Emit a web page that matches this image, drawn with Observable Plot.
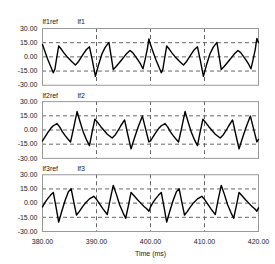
<!DOCTYPE html>
<html>
<head>
<meta charset="utf-8">
<script src="https://cdn.jsdelivr.net/npm/d3@7"></script>
<script src="https://cdn.jsdelivr.net/npm/@observablehq/plot@0.6"></script>
<style>
  html, body { margin: 0; padding: 0; background: #fff; }
  #chart { width: 275px; height: 264px; }
</style>
</head>
<body>
<div id="chart"></div>
<script>
// Panel names and series labels
const panels = ["1", "2", "3"];
const refLabels = ["lf1ref", "lf2ref", "lf3ref"];
const actLabels = ["lf1", "lf2", "lf3"];

// Axis ticks
const xTicks = [380, 390, 400, 410, 420];
const yTicks = [30, 15, 0, -15, -30];
const yGrid = [15, 0, -15];
const xGrid = [390, 400, 410];

// Panel 1 (lf1): time (ms) and value
const t1 = [380,380.5,381,381.5,382,382.3,382.6,383,383.5,384,384.5,385,385.5,386.1,386.6,387.1,387.6,388.1,388.7,389.2,389.8,390.4,391,391.6,392.3,392.7,393.1,393.6,394.1,394.6,395.1,395.6,396.2,396.7,397.2,397.7,398.2,398.6,399,399.4,399.7,
            400,400.5,401,401.5,402,402.3,402.6,403,403.5,404,404.5,405,405.5,406.1,406.6,407.1,407.6,408.1,408.7,409.2,409.8,410.4,411,411.6,412.3,412.7,413.1,413.6,414.1,414.6,415.1,415.6,416.2,416.7,417.2,417.7,418.2,418.6,419,419.4,419.7,420];
const v1 = [13,5,-3,-10,-16.7,-13,-2,11.5,8,4,0.5,-2.5,-5.5,-8.5,-5.5,-1,3.5,7.5,10.6,-3,-20.5,-8,3,10,15.3,1,-13.3,-10.5,-7,-3.5,0,3.5,6.8,4.5,0.5,-3.5,-8,-12.6,-3,8,19,
            13,5,-3,-10,-16.7,-13,-2,11.5,8,4,0.5,-2.5,-5.5,-8.5,-5.5,-1,3.5,7.5,10.6,-3,-20.5,-8,3,10,15.3,1,-13.3,-10.5,-7,-3.5,0,3.5,6.8,4.5,0.5,-3.5,-8,-12.6,-3,8,19.5,15];

// Panel 2 (lf2)
const t2 = [380,380.5,381,381.5,382,382.7,383.2,383.7,384.2,384.7,385.2,385.8,386.4,387,387.6,388.2,388.7,389.2,389.7,390.2,390.8,391.4,392,392.9,393.5,394,394.5,395.2,395.8,396.4,397,397.7,398.5,399.1,399.7,
            400,400.5,401,401.5,402,402.7,403.2,403.7,404.2,404.7,405.2,405.8,406.4,407,407.6,408.2,408.7,409.2,409.7,410.2,410.8,411.4,412,412.9,413.5,414,414.5,415.2,415.8,416.4,417,417.7,418.5,419.1,419.7,420];
const v2 = [-11.6,-7,-2.5,1.5,4.5,6.8,3,-2,-6,-9.5,-12.6,3,19.5,8,-3,-11,-16.5,-2,11.5,8,3.5,-0.5,-4.5,-8.5,-5,-0.5,4.5,10.6,-5,-20,-9,3,14.7,1,-12.6,
            -11.6,-7,-2.5,1.5,4.5,6.8,3,-2,-6,-9.5,-12.6,3,19.5,8,-3,-11,-16.5,-2,11.5,8,3.5,-0.5,-4.5,-8.5,-5,-0.5,4.5,10.6,-5,-20,-9,3,14.7,1,-12.6,-10];

// Panel 3 (lf3)
const t3 = [380,380.5,381,381.5,382,382.5,383,383.6,384.2,384.8,385.3,385.8,386.3,386.8,387.4,388,388.7,389.5,390,390.6,391.2,392,392.5,393.1,393.7,394.3,394.9,395.4,395.9,396.4,397,397.6,398.2,398.8,399.3,399.7,
            400,400.5,401,401.5,402,402.5,403,403.6,404.2,404.8,405.3,405.8,406.3,406.8,407.4,408,408.7,409.5,410,410.6,411.2,412,412.5,413.1,413.7,414.3,414.9,415.4,415.9,416.4,417,417.6,418.2,418.8,419.3,419.7,420];
const v3 = [-4,1,5,8.5,11.3,-4,-20,-8,3,12,15.3,1,-12.6,-9,-4,0.5,4.5,7.2,4,-1,-6,-12,3,18.8,9,-2,-10,-16,-3,11.3,7.5,3.5,0,-3.5,-6,-8.5,
            -4,1,5,8.5,11.3,-4,-20,-8,3,12,15.3,1,-12.6,-9,-4,0.5,4.5,7.2,4,-1,-6,-12,3,18.8,9,-2,-10,-16,-3,11.3,7.5,3.5,0,-3.5,-6,-8.5,-5];

const series = [[t1, v1], [t2, v2], [t3, v3]];
const rows = [];
series.forEach(([ts, vs], i) => ts.forEach((t, j) => rows.push({panel: panels[i], t, v: vs[j]})));
const labelRows = panels.map((p, i) => ({panel: p, ref: refLabels[i], act: actLabels[i]}));

const fmt = d => d.toFixed(2);

const chart = Plot.plot({
  width: 275,
  height: 264,
  marginLeft: 42,
  marginRight: 17,
  marginTop: 28,
  marginBottom: 33,
  style: {fontFamily: "Arial, 'Liberation Sans', sans-serif", fontSize: "7px", color: "#222", background: "#fff"},
  x: {domain: [380, 420], ticks: xTicks, tickFormat: fmt, tickSize: 0, tickPadding: 8, label: "Time (ms)", labelArrow: "none", labelAnchor: "center", labelOffset: 24},
  y: {domain: [-30, 30], ticks: yTicks, tickFormat: fmt, tickSize: 0, tickPadding: 5, label: null},
  fy: {domain: panels, paddingInner: 0.224, paddingOuter: 0, round: false, axis: null, label: null},
  marks: [
    Plot.ruleY(yGrid, {stroke: "#666", strokeDasharray: "4,3", strokeWidth: 1}),
    Plot.ruleX(xGrid, {stroke: "#666", strokeDasharray: "4,3", strokeWidth: 1}),
    Plot.frame({stroke: "#999"}),
    Plot.line(rows, {x: "t", y: "v", fy: "panel", stroke: "#000", strokeWidth: 1.4}),
    Plot.text(labelRows, {fy: "panel", text: "ref", frameAnchor: "top-left", textAnchor: "start", dy: -9, fill: "#222"}),
    Plot.text(labelRows, {fy: "panel", text: "act", frameAnchor: "top-left", textAnchor: "start", dx: 35, dy: -9, fill: "#222"})
  ]
});
document.getElementById("chart").appendChild(chart);
</script>
</body>
</html>
